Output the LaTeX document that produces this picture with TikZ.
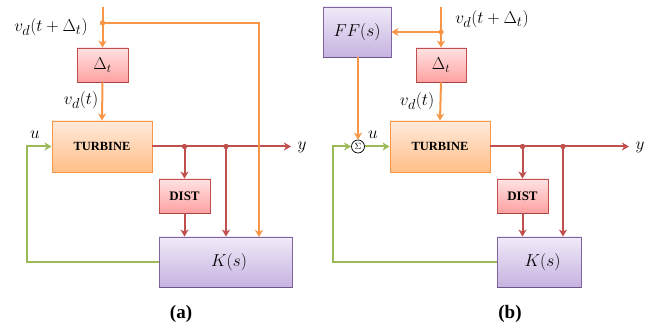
\documentclass[tikz,border=0pt]{standalone}
\usepackage{fontspec}
\newfontfamily\capfont{Liberation Serif}
\usetikzlibrary{arrows.meta}
\definecolor{orA}{HTML}{F79646}
\definecolor{rdA}{HTML}{C0504D}
\definecolor{grA}{HTML}{9BBB59}
\definecolor{puA}{HTML}{8064A2}
\definecolor{rdT}{HTML}{FFE3E3}
\definecolor{rdB}{HTML}{FFA0A0}
\definecolor{orT}{HTML}{FFEADB}
\definecolor{orB}{HTML}{FFBF88}
\definecolor{puT}{HTML}{F0EAF8}
\definecolor{puB}{HTML}{C6B3E0}
\tikzset{
  or/.style={draw=orA,line width=2pt},
  rd/.style={draw=rdA,line width=2pt},
  gr/.style={draw=grA,line width=2pt},
  arr/.style={-{Stealth[length=7pt,width=8pt,inset=2pt]}},
  dlybox/.style={draw=rdA,line width=0.8pt,top color=rdT,bottom color=rdB,minimum width=51pt,minimum height=34pt,inner sep=0pt},
  turbbox/.style={draw=orA,line width=0.9pt,top color=orT,bottom color=orB,minimum width=100pt,minimum height=51pt,inner sep=0pt,font=\capfont\fontsize{12.5}{14}\selectfont\bfseries},
  ctlbox/.style={draw=puA,line width=0.8pt,top color=puT,bottom color=puB,minimum height=50pt,inner sep=0pt,font=\fontsize{17}{20}\selectfont},
  lbl/.style={font=\fontsize{19}{22}\selectfont,inner sep=0pt},
  jdot/.style={circle,fill=#1,inner sep=0pt,minimum size=5pt},
  panelcap/.style={font=\capfont\fontsize{19}{22}\selectfont\bfseries,inner sep=0pt},
  btm/.style={line width=1.6pt,draw=#1}
}
\begin{document}
\begin{tikzpicture}[x=1pt,y=-1pt]
\useasboundingbox (0,0) rectangle (657,328);
% ---------- panel (a)
\node[dlybox,font=\fontsize{17}{20}\selectfont] (DtA) at (102.5,65) {$\Delta_t$};
\node[turbbox] (TA) at (102,146.5) {TURBINE};
\node[dlybox,font=\capfont\fontsize{13}{15}\selectfont\bfseries] (DIA) at (184.5,196) {DIST};
\node[ctlbox,minimum width=133pt] (KA) at (225.5,262) {\hspace*{7pt}$K(s)$};
\coordinate (topA) at (102.5,7);
\node[jdot=orA] (dA) at (102.5,23) {};
\coordinate (kA3) at (259,237);
\node[jdot=rdA] (j1A) at (184.5,146.5) {};
\node[jdot=rdA] (j2A) at (226,146.5) {};
\coordinate (yA) at (291,146.5);
\coordinate (cA) at (27,146.5);
\node[lbl] (l1A) at (51,27) {$v_d(t+\Delta_t)$};
\node[lbl] (l2A) at (81,100) {$v_d(t)$};
\node[lbl] (uA) at (35,135) {$u$};
\node[lbl] (ylA) at (302,147) {$y$};
\node[panelcap] (capA) at (181,314) {(a)};
\draw[btm=rdA!85!black] (DtA.south west) -- (DtA.south east);
\draw[btm=rdA!85!black] (DIA.south west) -- (DIA.south east);
\draw[btm=puA!85!black] (KA.south west) -- (KA.south east);
% connectors (a)
\draw[gr,arr] (KA.west) -| (cA) -- (TA.west);
\draw[rd,arr] (TA.east) -- (yA);
\draw[rd,arr] (j1A.center) -- (DIA.north);
\draw[rd,arr] (DIA.south) -- (DIA.south|-KA.north);
\draw[rd,arr] (j2A.center) -- (j2A|-KA.north);
\draw[or] (topA) -- (dA.center);
\draw[or,arr] (dA.center) -- (DtA.north);
\draw[or,arr] (DtA.south) -- (TA.north);
\draw[or,arr] (dA.center) -| (kA3);
\node[jdot=orA] at (dA) {};
\node[jdot=rdA] at (j1A) {};
\node[jdot=rdA] at (j2A) {};
% ---------- panel (b)
\node[ctlbox,minimum width=68pt] (FFB) at (357,32) {$FF(s)$};
\node[dlybox,minimum width=50pt,font=\fontsize{17}{20}\selectfont] (DtB) at (441,65) {$\Delta_t$};
\node[turbbox] (TB) at (440,146.5) {TURBINE};
\node[dlybox,font=\capfont\fontsize{13}{15}\selectfont\bfseries] (DIB) at (522.5,196) {DIST};
\node[ctlbox,minimum width=84pt] (KB) at (539,262) {\hspace*{7pt}$K(s)$};
\node[circle,draw=black,line width=0.7pt,fill=white,minimum size=13pt,inner sep=0pt,font=\fontsize{9}{10}\selectfont] (SB) at (358,146.5) {$\Sigma$};
\coordinate (topB) at (441,7);
\node[jdot=orA] (dB) at (441,32) {};
\node[jdot=rdA] (j1B) at (522.5,146.5) {};
\node[jdot=rdA] (j2B) at (563,146.5) {};
\coordinate (yB) at (629,146.5);
\coordinate (cB) at (333,146.5);
\node[lbl] (l1B) at (492,19) {$v_d(t+\Delta_t)$};
\node[lbl] (l2B) at (417,101) {$v_d(t)$};
\node[lbl] (uB) at (373,135) {$u$};
\node[lbl] (ylB) at (640,147) {$y$};
\node[panelcap] (capB) at (510,314) {(b)};
\draw[btm=puA!85!black] (FFB.south west) -- (FFB.south east);
\draw[btm=rdA!85!black] (DtB.south west) -- (DtB.south east);
\draw[btm=rdA!85!black] (DIB.south west) -- (DIB.south east);
\draw[btm=puA!85!black] (KB.south west) -- (KB.south east);
% connectors (b)
\draw[gr,arr] (KB.west) -| (cB) -- (SB.west);
\draw[gr,arr] (SB.east) -- (TB.west);
\draw[rd,arr] (TB.east) -- (yB);
\draw[rd,arr] (j1B.center) -- (DIB.north);
\draw[rd,arr] (DIB.south) -- (DIB.south|-KB.north);
\draw[rd,arr] (j2B.center) -- (j2B|-KB.north);
\draw[or] (topB) -- (dB.center);
\draw[or,arr] (dB.center) -- (DtB.north);
\draw[or,arr] (DtB.south) -- (TB.north);
\draw[or,arr] (dB.center) -- (FFB.east|-dB);
\draw[or,arr] (FFB.south-|SB) -- (SB.north);
\node[jdot=orA] at (dB) {};
\node[jdot=rdA] at (j1B) {};
\node[jdot=rdA] at (j2B) {};
\end{tikzpicture}
\end{document}
